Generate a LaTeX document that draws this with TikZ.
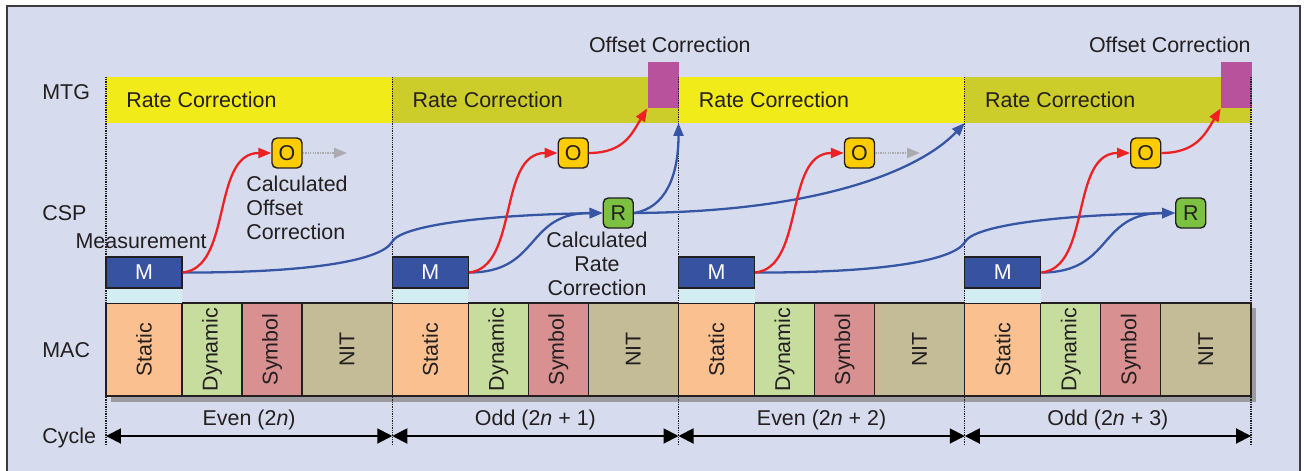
\documentclass[tikz,border=0pt]{standalone}
\usepackage{fontspec}
\setmainfont{Liberation Sans}
\usetikzlibrary{arrows.meta}
\definecolor{bg}{RGB}{214,220,237}
\definecolor{framecol}{RGB}{60,60,60}
\definecolor{textcol}{RGB}{35,31,32}
\definecolor{bandEven}{RGB}{242,235,26}
\definecolor{bandOdd}{RGB}{204,205,43}
\definecolor{magentabox}{RGB}{184,82,156}
\definecolor{staticcol}{RGB}{250,192,143}
\definecolor{dynamiccol}{RGB}{199,221,158}
\definecolor{symbolcol}{RGB}{217,144,144}
\definecolor{nitcol}{RGB}{196,188,150}
\definecolor{shadowcol}{RGB}{155,155,160}
\definecolor{cyanstrip}{RGB}{211,237,242}
\definecolor{mblue}{RGB}{56,82,162}
\definecolor{arrowblue}{RGB}{55,85,165}
\definecolor{arrowred}{RGB}{237,32,36}
\definecolor{oyellow}{RGB}{255,204,0}
\definecolor{rgreen}{RGB}{124,193,66}
\definecolor{greyarrow}{RGB}{170,170,175}
\begin{document}
\begin{tikzpicture}[x=0.02cm,y=-0.02cm,
  every node/.style={text=textcol,font=\fontsize{12.2}{13.66}\selectfont},
  lbl/.style={inner sep=0pt},
  segline/.style={draw=textcol,line width=0.8pt},
  mbox/.style={draw=textcol,fill=mblue,line width=0.8pt,minimum width=1.52cm,minimum height=0.62cm,inner sep=0pt,text=white},
  obox/.style={draw=textcol,fill=oyellow,line width=0.8pt,minimum size=0.6cm,inner sep=0pt,rounded corners=0.1cm},
  rbox/.style={draw=textcol,fill=rgreen,line width=0.8pt,minimum size=0.6cm,inner sep=0pt,rounded corners=0.1cm},
  offbox/.style={fill=magentabox,minimum width=0.62cm,minimum height=0.92cm,inner sep=0pt},
  arrblue/.style={draw=arrowblue,line width=1.3pt,-{Triangle[length=0.26cm,width=0.2cm]}},
  arrred/.style={draw=arrowred,line width=1.3pt,-{Triangle[length=0.26cm,width=0.2cm]}},
  arrgrey/.style={draw=greyarrow,line width=1.2pt,dash pattern=on 0.8pt off 0.6pt,-{Triangle[length=0.26cm,width=0.2cm,fill=greyarrow]}},
  cycarrow/.style={draw=black,line width=1.1pt,{Triangle[length=0.3cm,width=0.3cm]}-{Triangle[length=0.3cm,width=0.3cm]}},
  divider/.style={draw=textcol,line width=0.6pt,dash pattern=on 0.5pt off 0.5pt}
]
\useasboundingbox (0,0) rectangle (1304,470);
\fill[white] (0,0) rectangle (1304,470);
\fill[bg] (7,6) rectangle (1300,475);
\draw[framecol,line width=0.6pt] (7,475) -- (7,6) -- (1300,6) -- (1300,475);

% shadow of MAC row
\fill[shadowcol] (111,308) rectangle (1256,402);

\foreach \i/\bc in {0/bandEven,1/bandOdd,2/bandEven,3/bandOdd}{
  \pgfmathsetmacro{\xa}{106+286.25*\i}
  \fill[\bc] (\xa,77) rectangle ({\xa+286.25},123);
  \node[lbl,anchor=base west] (rc\i) at ({\xa+20},107) {Rate Correction};
  \draw[segline,fill=staticcol] (\xa,303) rectangle ({\xa+76},396);
  \draw[segline,fill=dynamiccol] ({\xa+76},303) rectangle ({\xa+136},396);
  \draw[segline,fill=symbolcol] ({\xa+136},303) rectangle ({\xa+196},396);
  \draw[segline,fill=nitcol] ({\xa+196},303) rectangle ({\xa+286.25},396);
  \node[rotate=90] (st\i) at ({\xa+38},349.5) {Static};
  \node[rotate=90] (dy\i) at ({\xa+106},349.5) {Dynamic};
  \node[rotate=90] (sy\i) at ({\xa+166},349.5) {Symbol};
  \node[rotate=90] (ni\i) at ({\xa+241},349.5) {NIT};
  \fill[cyanstrip] (\xa,288) rectangle ({\xa+76},303);
}

% magenta offset-correction boxes
\node[offbox] (OB1) at (663,85) {};
\node[offbox] (OB3) at (1236.5,85) {};
\node[lbl,anchor=base east] (oc1) at (751,52) {Offset Correction};
\node[lbl,anchor=base east] (oc3) at (1251,52) {Offset Correction};

% cycle boundaries
\foreach \i in {0,...,4}{
  \pgfmathsetmacro{\xb}{106+286.25*\i}
  \draw[divider] (\xb,77) -- (\xb,445);
  \coordinate (b\i) at (\xb,436);
}

% measurement boxes
\foreach \i in {0,...,3}{
  \pgfmathsetmacro{\xa}{106+286.25*\i}
  \node[mbox] (M\i) at ({\xa+38},272.5) {M};
  \node[obox] (O\i) at ({\xa+181},153) {O};
}
\node[rbox] (R1) at (618.25,213) {R};
\node[rbox] (R3) at (1190.75,213) {R};

\coordinate (c1) at (678.5,123);
\coordinate (c3) at (964.75,123);
\coordinate (g0) at (347,153);
\coordinate (g2) at (920,153);

% blue connectors
\draw[arrblue] (M0.east) .. controls (300,273) and (380,262) .. (392,242) .. controls (400,226) and (480,215) .. (R1.west);
\draw[arrblue] (M1.east) .. controls +(72,0) and +(-78,0) .. (R1.west);
\draw[arrblue] (R1.east) .. controls +(32,-5) and +(0,52) .. (c1);
\draw[arrblue] (R1.east) .. controls (820,212) and (920,170) .. (c3);
\draw[arrblue] (M2.east) .. controls (873,273) and (953,262) .. (965,242) .. controls (973,226) and (1053,215) .. (R3.west);
\draw[arrblue] (M3.east) .. controls +(72,0) and +(-78,0) .. (R3.west);

% red connectors
\foreach \i in {0,...,3}{
  \draw[arrred] (M\i.east) .. controls +(50,-5) and +(-60,0) .. (O\i.west);
}
\draw[arrred] (O1.east) .. controls +(35,0) and +(-15,25) .. (OB1.south west);
\draw[arrred] (O3.east) .. controls +(35,0) and +(-15,25) .. (OB3.south west);

% grey dotted arrows
\draw[arrgrey] (O0.east) -- (g0);
\draw[arrgrey] (O2.east) -- (g2);

% cycle arrows
\draw[cycarrow] (b0) -- (b1);
\draw[cycarrow] (b1) -- (b2);
\draw[cycarrow] (b2) -- (b3);
\draw[cycarrow] (b3) -- (b4);
\node[lbl,anchor=base] (cl0) at (249.1,425) {Even (2\textit{n})};
\node[lbl,anchor=base] (cl1) at (535.4,425) {Odd (2\textit{n} + 1)};
\node[lbl,anchor=base] (cl2) at (821.6,425) {Even (2\textit{n} + 2)};
\node[lbl,anchor=base] (cl3) at (1107.9,425) {Odd (2\textit{n} + 3)};

% row labels
\node[lbl,anchor=base west] (lmtg) at (42,99) {MTG};
\node[lbl,anchor=base west] (lcsp) at (42,220) {CSP};
\node[lbl,anchor=base west] (lmac) at (42,357) {MAC};
\node[lbl,anchor=base west] (lcyc) at (42,443) {Cycle};

% annotations
\node[lbl,anchor=base east] (meas) at (207,248) {Measurement};
\node[anchor=north west,align=left,inner sep=0pt] (calo) at (246,176) {Calculated\\Offset\\Correction};
\node[anchor=north,align=center,inner sep=0pt] (calr) at (597,232) {Calculated\\Rate\\Correction};
\end{tikzpicture}
\end{document}
